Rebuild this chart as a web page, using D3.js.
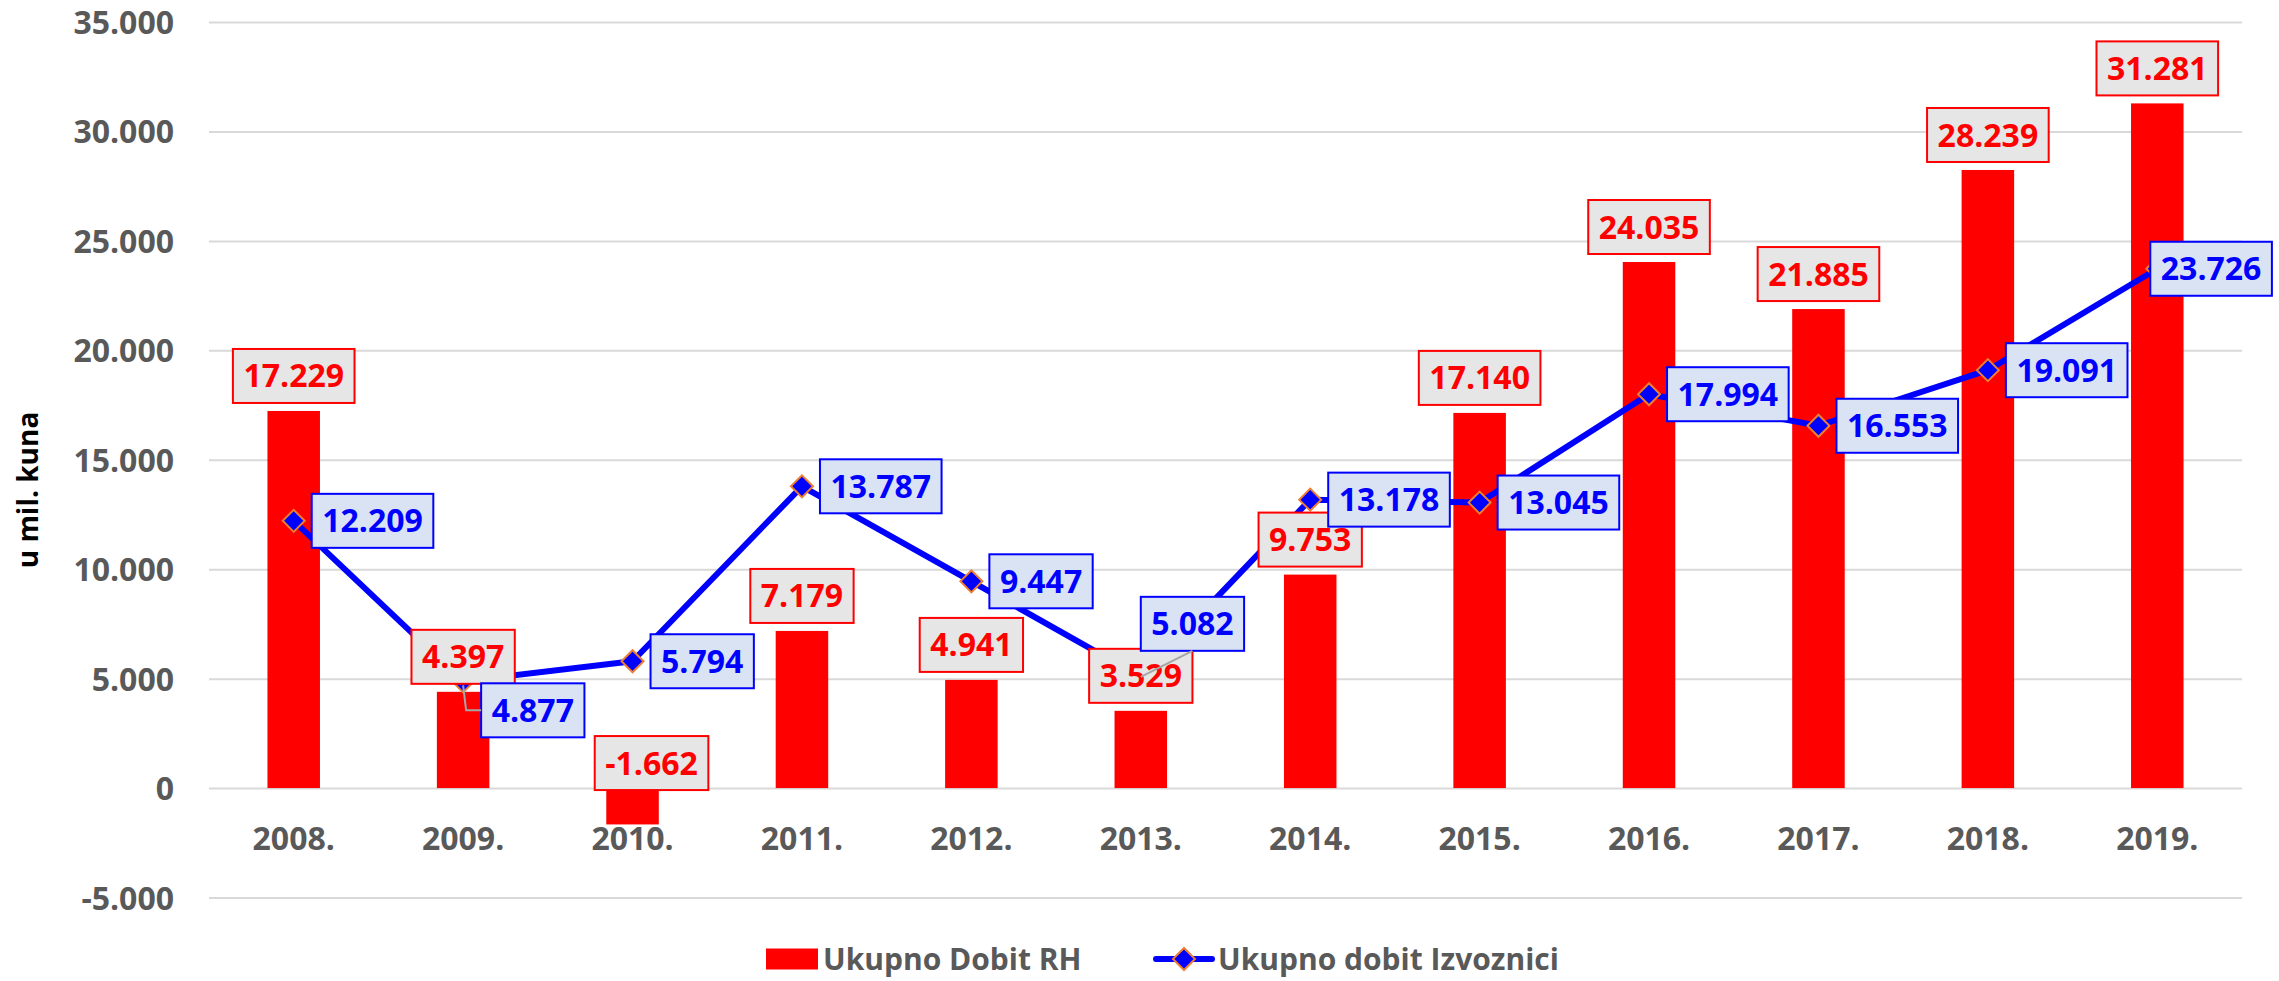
<!DOCTYPE html>
<html>
<head>
<meta charset="utf-8">
<script src="https://cdn.jsdelivr.net/npm/d3@7"></script>
<style>
  body { margin: 0; background: #fff; }
  svg text { font-family: "Open Sans", sans-serif; font-weight: bold; }
</style>
</head>
<body>
<div id="chart"></div>
<script>
// chart values
const years = ["2008.", "2009.", "2010.", "2011.", "2012.", "2013.", "2014.", "2015.", "2016.", "2017.", "2018.", "2019."];
const dobitRH = [17229, 4397, -1662, 7179, 4941, 3529, 9753, 17140, 24035, 21885, 28239, 31281];
const dobitIzvoznici = [12209, 4877, 5794, 13787, 9447, 5082, 13178, 13045, 17994, 16553, 19091, 23726];
const yTicks = [-5000, 0, 5000, 10000, 15000, 20000, 25000, 30000, 35000];
const seriesNames = ["Ukupno Dobit RH", "Ukupno dobit Izvoznici"];
const yTitle = "u mil. kuna";

// hand moved labels (as in the original sheet)
const redNudge = { "2010.": { dx: 19, dy: 10 } };
const blueNudge = {
  "2009.": { dx: 0, dy: 29, leader: "side" },
  "2013.": { dx: -18, dy: -53, leader: "bottom" },
  "2019.": { dx: -25, dy: 0 }
};

let width = 2279,
    height = 981,
    margin = ({ top: 22, right: 37, bottom: 83.5, left: 209 });

const loc = d3.formatLocale({ decimal: ",", thousands: ".", grouping: [3], currency: ["", ""], minus: "-" });
const fmt = loc.format(",d");

const svg = d3.select("#chart")
  .append("svg")
  .attr("width", width)
  .attr("height", height)
  .attr("viewBox", [0, 0, width, height]);

let x = d3.scaleBand()
  .domain(years)
  .range([margin.left, width - margin.right])
  .paddingInner(0.69)
  .paddingOuter(0.345);

let y = d3.scaleLinear()
  .domain([-5000, 35000])
  .range([height - margin.bottom, margin.top]);

const cx = d => x(d) + x.bandwidth() / 2;

// y axis + gridlines
svg.append("g")
  .attr("class", "y-axis")
  .attr("transform", `translate(${margin.left},0)`)
  .call(d3.axisLeft(y).tickValues(yTicks).tickFormat(fmt)
    .tickSize(-(width - margin.left - margin.right)).tickPadding(35))
  .call(g => g.select(".domain").remove())
  .call(g => g.selectAll(".tick line").attr("stroke", "#d9d9d9").attr("stroke-width", 2))
  .call(g => g.selectAll(".tick text").attr("fill", "#595959").style("font-size", "32px")
    .attr("dy", "0.36em"));

// x labels
svg.append("g")
  .selectAll("text")
  .data(years)
  .join("text")
  .attr("x", d => cx(d))
  .attr("y", 838)
  .attr("dy", "0.36em")
  .attr("text-anchor", "middle")
  .attr("fill", "#595959")
  .style("font-size", "32px")
  .text(d => d);

// y title
svg.append("text")
  .attr("transform", `translate(28,490) rotate(-90)`)
  .attr("text-anchor", "middle")
  .attr("dy", "0.36em")
  .attr("fill", "#000")
  .style("font-size", "28px")
  .text(yTitle);

// bars
svg.append("g")
  .attr("fill", "#ff0000")
  .selectAll("rect")
  .data(years)
  .join("rect")
  .attr("x", d => x(d))
  .attr("width", x.bandwidth())
  .attr("y", (d, i) => y(Math.max(dobitRH[i], 0)))
  .attr("height", (d, i) => Math.abs(y(dobitRH[i]) - y(0)));

// line
const line = d3.line()
  .x((d, i) => cx(years[i]))
  .y(d => y(d));

svg.append("path")
  .datum(dobitIzvoznici)
  .attr("fill", "none")
  .attr("stroke", "#0000ff")
  .attr("stroke-width", 6)
  .attr("stroke-linejoin", "round")
  .attr("d", line);

const diamond = d3.symbol(d3.symbolSquare, 242);

svg.append("g")
  .selectAll("path")
  .data(dobitIzvoznici)
  .join("path")
  .attr("d", diamond)
  .attr("transform", (d, i) => `translate(${cx(years[i])},${y(d)}) rotate(45)`)
  .attr("fill", "#0000ff")
  .attr("stroke", "#ed7d31")
  .attr("stroke-width", 2);

const boxH = 54;

// red labels
const redLabels = svg.append("g")
  .selectAll("g")
  .data(years.map((yr, i) => ({ yr, v: dobitRH[i] })))
  .join("g");

redLabels.append("text")
  .attr("text-anchor", "middle")
  .attr("dy", "0.36em")
  .attr("fill", "#ff0000")
  .style("font-size", "32px")
  .text(d => fmt(d.v));

redLabels.each(function(d) {
  const g = d3.select(this);
  const w = g.select("text").node().getComputedTextLength() + 21;
  const n = redNudge[d.yr] || { dx: 0, dy: 0 };
  const px = cx(d.yr) + n.dx;
  const py = y(Math.max(d.v, 0)) - 8 - boxH / 2 + n.dy;
  g.attr("transform", `translate(${px},${py})`);
  g.insert("rect", "text")
    .attr("x", -w / 2).attr("y", -boxH / 2)
    .attr("width", w).attr("height", boxH)
    .attr("fill", "#e7e6e6")
    .attr("stroke", "#ff0000")
    .attr("stroke-width", 2);
});

// blue labels
const blueLabels = svg.append("g")
  .selectAll("g")
  .data(years.map((yr, i) => ({ yr, v: dobitIzvoznici[i] })))
  .join("g");

blueLabels.append("text")
  .attr("text-anchor", "middle")
  .attr("dy", "0.36em")
  .attr("fill", "#0000ff")
  .style("font-size", "32px")
  .text(d => fmt(d.v));

const leaders = svg.append("g")
  .attr("fill", "none")
  .attr("stroke", "#a6a6a6")
  .attr("stroke-width", 2);

blueLabels.each(function(d) {
  const g = d3.select(this);
  const w = g.select("text").node().getComputedTextLength() + 21;
  const n = blueNudge[d.yr] || { dx: 0, dy: 0 };
  const mx = cx(d.yr), my = y(d.v);
  const px = mx + 18 + w / 2 + n.dx;
  const py = my + n.dy;
  g.attr("transform", `translate(${px},${py})`);
  g.insert("rect", "text")
    .attr("x", -w / 2).attr("y", -boxH / 2)
    .attr("width", w).attr("height", boxH)
    .attr("fill", "#dae3f3")
    .attr("stroke", "#0000ff")
    .attr("stroke-width", 2);

  if (n.leader === "side") {
    leaders.append("path")
      .attr("d", d3.line()([[px - w / 2, py], [mx + 3, py], [mx, my + 4]]));
  } else if (n.leader === "bottom") {
    leaders.append("path")
      .attr("d", d3.line()([[px, py + boxH / 2], [mx, my]]));
  }
});

// legend
const legend = svg.append("g").attr("transform", "translate(0,959)");

legend.append("rect")
  .attr("x", 766).attr("y", -10.5)
  .attr("width", 52).attr("height", 21)
  .attr("fill", "#ff0000");

legend.append("text")
  .attr("x", 823).attr("dy", "0.36em")
  .attr("fill", "#595959")
  .style("font-size", "30px")
  .text(seriesNames[0]);

legend.append("line")
  .attr("x1", 1156).attr("x2", 1212)
  .attr("stroke", "#0000ff")
  .attr("stroke-width", 6)
  .attr("stroke-linecap", "round");

legend.append("path")
  .attr("d", d3.symbol(d3.symbolSquare, 242))
  .attr("transform", "translate(1184,0) rotate(45)")
  .attr("fill", "#0000ff")
  .attr("stroke", "#ed7d31")
  .attr("stroke-width", 2);

legend.append("text")
  .attr("x", 1218).attr("dy", "0.36em")
  .attr("fill", "#595959")
  .style("font-size", "30px")
  .text(seriesNames[1]);
</script>
</body>
</html>
